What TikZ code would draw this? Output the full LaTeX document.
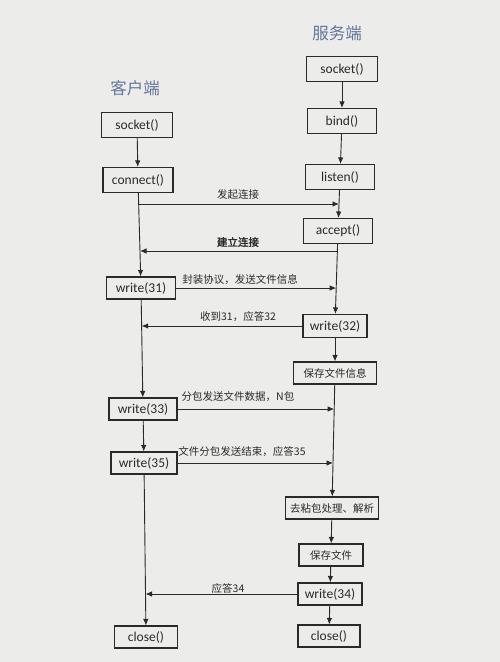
\documentclass[tikz,border=0pt]{standalone}
\usepackage{fontspec}
\setmainfont{Carlito}
\newfontfamily\zh[AutoFakeBold=2]{Noto Sans CJK SC}
\usetikzlibrary{arrows.meta,positioning}
\definecolor{bgGray}{HTML}{ECECEA}
\definecolor{lineGray}{HTML}{2A2A2A}
\definecolor{titleBlue}{HTML}{63759C}
\tikzset{blk/.style={draw=lineGray, line width=1.1pt, fill=bgGray, text=lineGray,
  inner sep=1pt, minimum height=22pt, minimum width=#1,
  font=\fontsize{13.5}{14}\selectfont}, blk/.default=68pt}
\tikzset{tall/.style={minimum height=25pt}}
\tikzset{zb/.style={blk=#1, font=\zh\fontsize{10.5}{11}\selectfont}}
\tikzset{a/.style={draw=lineGray, line width=.9pt,
  -{Latex[length=6.5pt,width=5.5pt]}}}
\tikzset{lab/.style={font=\zh\fontsize{10.5}{11}\selectfont, text=lineGray,
  inner sep=1pt}}
\tikzset{ttl/.style={font=\zh\fontsize{16.5}{17}\selectfont, text=titleBlue}}
\begin{document}
\begin{tikzpicture}[x=1pt,y=-1pt]
        \useasboundingbox (0,0) rectangle (500,662);
        \fill[bgGray] (0,0) rectangle (500,662);
        %% server side
        \node (ttlS) at (337,33) [ttl] {服务端};
        \node (sSock) at (342,69) [blk=71pt, tall] {socket()};
        \node (sBind) at (342,121) [blk=69pt, tall] {bind()};
        \node (sListen) at (340,177) [blk=69pt, tall] {listen()};
        \node (sAccept) at (338,231) [blk=69pt, tall] {accept()};
        \node (sW32) at (335,326) [blk=64pt, minimum height=23pt] {write(32)};
        \node (sInfo) at (335,373) [zb=83pt] {保存文件信息};
        \node (sParse) at (332,508) [zb=93pt] {去粘包处理、解析};
        \node (sSave) at (331,555) [zb=64pt] {保存文件};
        \node (sW34) at (330,594) [blk=64pt] {write(34)};
        \node (sClose) at (329,636) [blk=62pt] {close()};
        %% client side
        \node (ttlC) at (135,88) [ttl] {客户端};
        \node (cSock) at (137,125) [blk=71pt, tall] {socket()};
        \node (cConn) at (138,180) [blk=70pt, tall] {connect()};
        \node (cW31) at (141,288) [blk=69pt] {write(31)};
        \node (cW33) at (143,409) [blk=68pt] {write(33)};
        \node (cW35) at (144,463) [blk=66pt] {write(35)};
        \node (cClose) at (146,637) [blk=63pt] {close()};
        %% points on the life lines
        \coordinate (cA) at (138.7,204); \coordinate (sA) at (339,204);
        \coordinate (sB) at (337.4,251); \coordinate (cB) at (140,251);
        \coordinate (sC) at (336.2,288);
        \coordinate (cD) at (141.6,326);
        \coordinate (sE) at (334.2,409);
        \coordinate (sF) at (333,463);
        \coordinate (cG) at (145.5,594);
        %% life lines
        \draw [a] (sSock) to (sBind);
        \draw [a] (sBind) to (sListen);
        \draw [a] (sListen) to (sAccept);
        \draw [a] (sAccept) to (sW32);
        \draw [a] (sW32) to (sInfo);
        \draw [a] (sInfo) to (sParse);
        \draw [a] (sParse) to (sSave);
        \draw [a] (sSave) to (sW34);
        \draw [a] (sW34) to (sClose);
        \draw [a] (cSock) to (cConn);
        \draw [a] (cConn) to (cW31);
        \draw [a] (cW31) to (cW33);
        \draw [a] (cW33) to (cW35);
        \draw [a] (cW35) to (cClose);
        %% messages
        \draw [a] (cA) to (sA);
        \draw [a] (sB) to (cB);
        \draw [a] (cW31.east) to (sC);
        \draw [a] (sW32.west) to (cD);
        \draw [a] (cW33.east) to (sE);
        \draw [a] (cW35.east) to (sF);
        \draw [a] (sW34.west) to (cG);
        \node (lA) at (238,195) [lab] {发起连接};
        \node (lB) at (238,242) [lab] {\bfseries 建立连接};
        \node (lC) at (240,280) [lab] {封装协议，发送文件信息};
        \node (lD) at (238,317) [lab] {收到31，应答32};
        \node (lE) at (238,397) [lab] {分包发送文件数据，N包};
        \node (lF) at (242,452) [lab] {文件分包发送结束，应答35};
        \node (lG) at (228,588) [lab] {应答34};
\end{tikzpicture}
\end{document}
